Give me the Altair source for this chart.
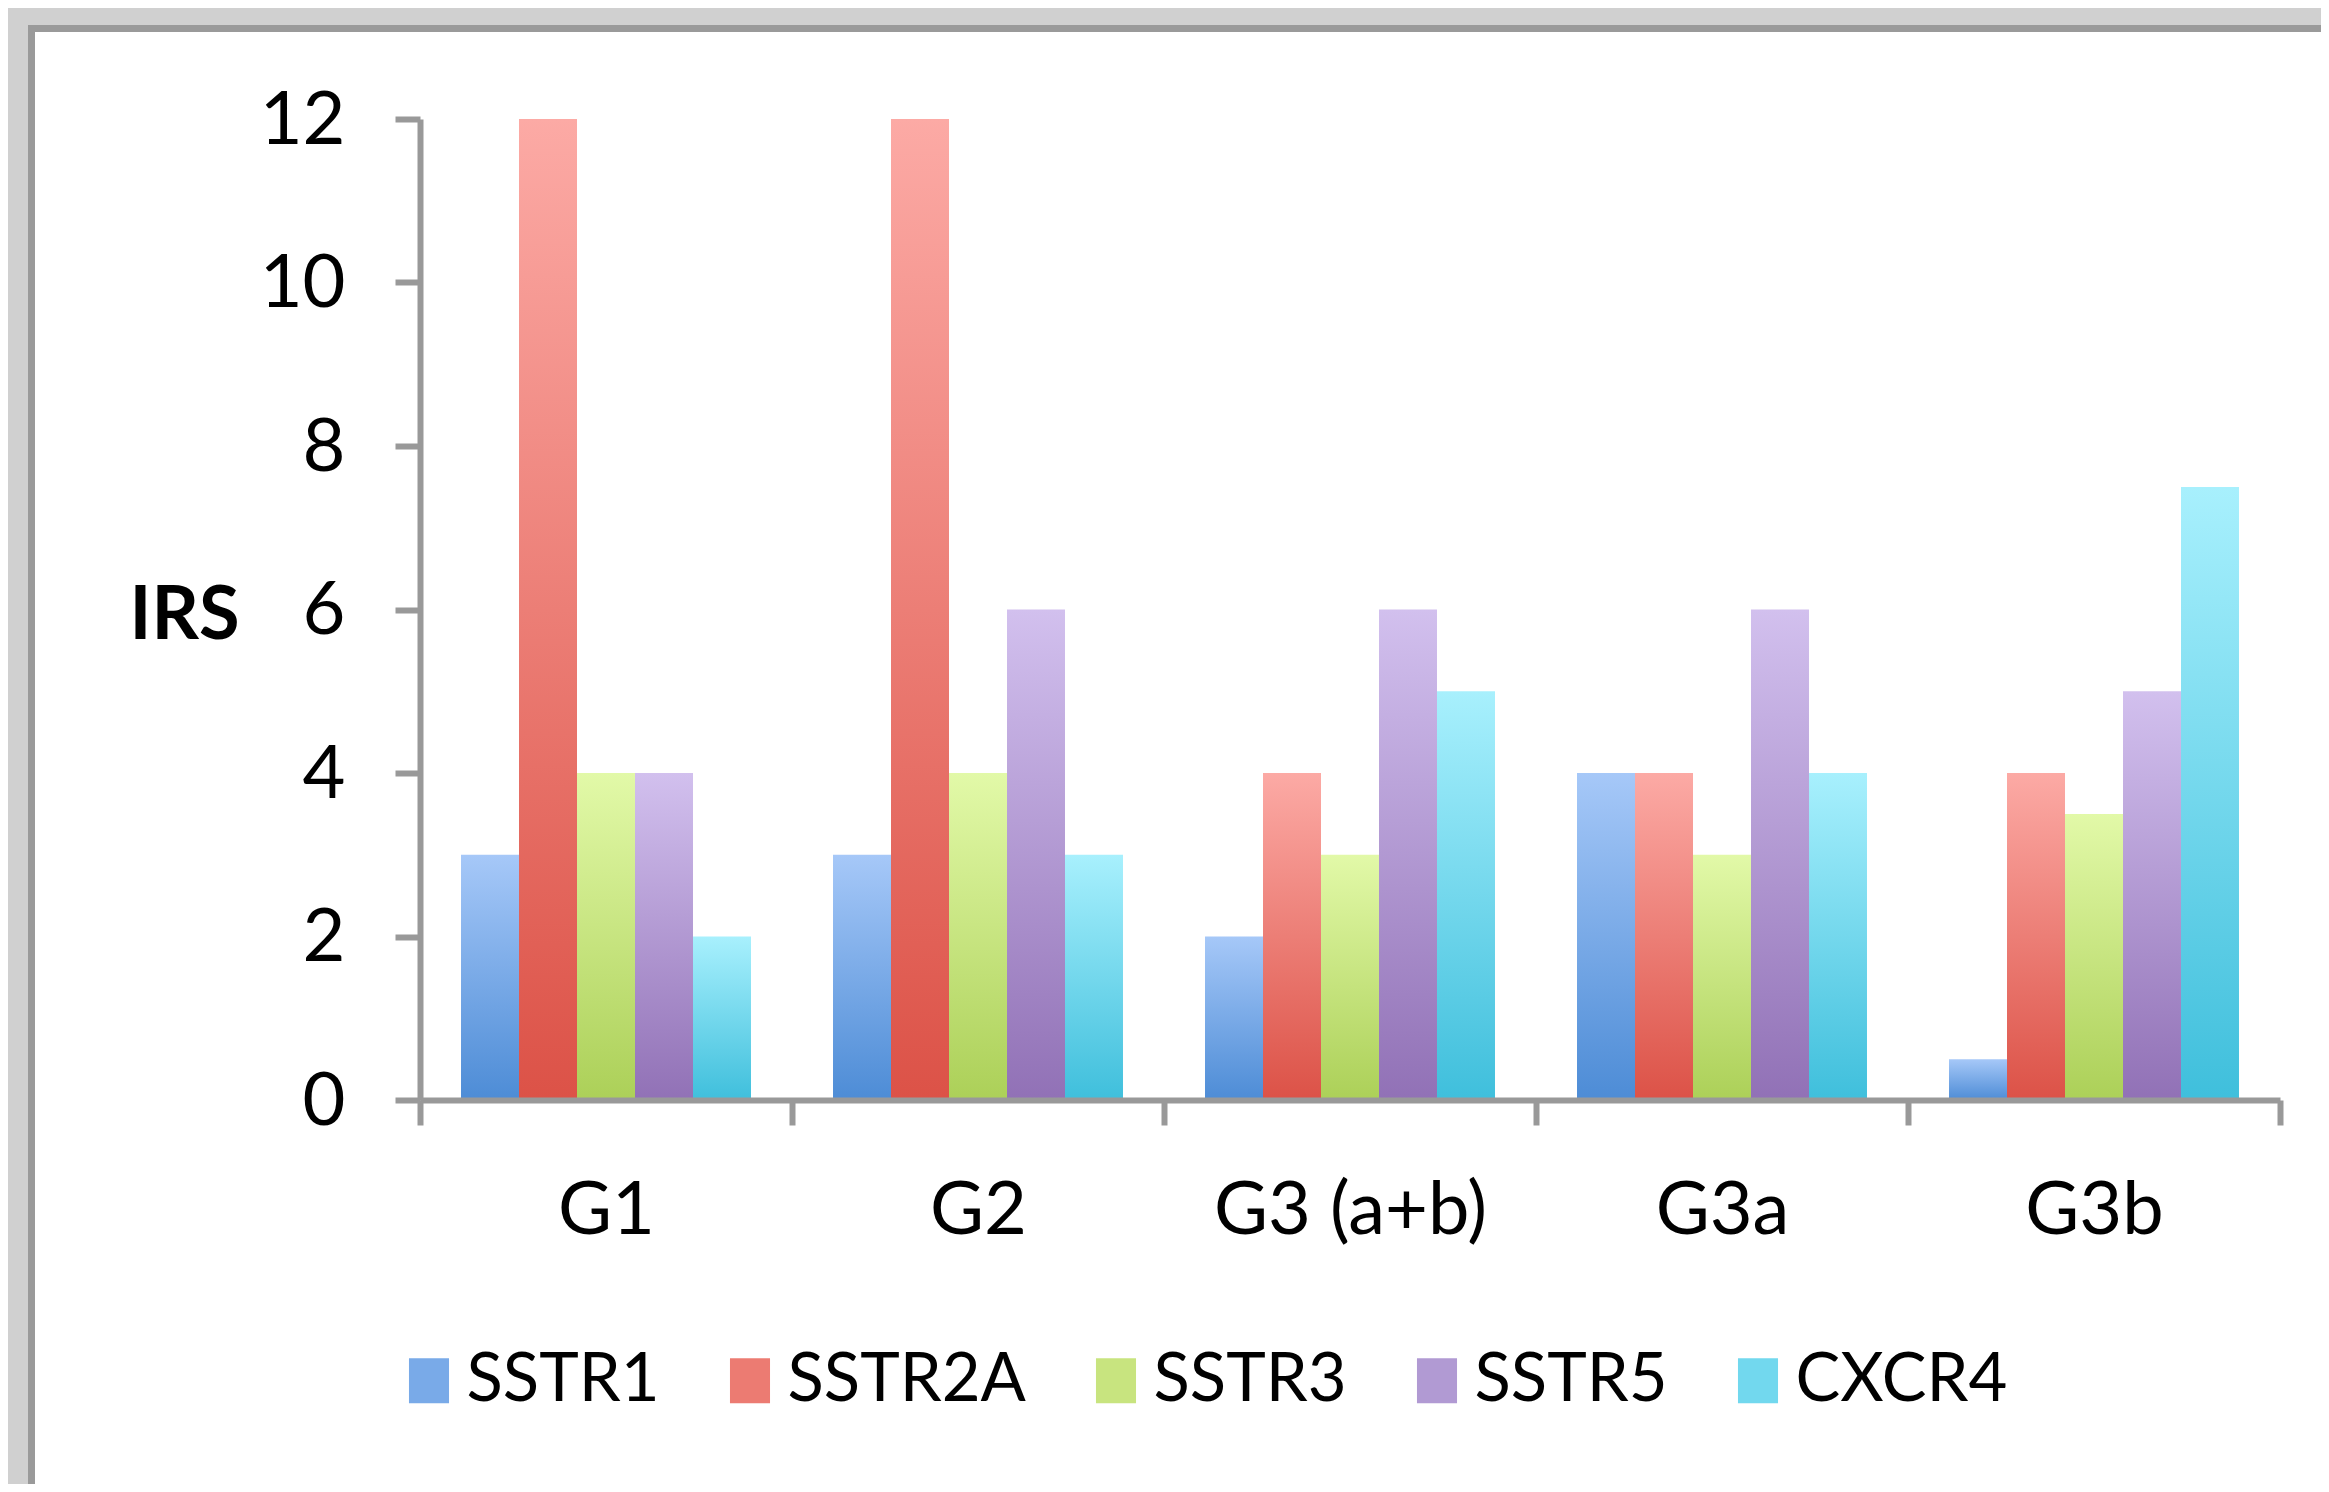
import altair as alt
import pandas as pd

# ---- data ----
groups = ["G1", "G2", "G3 (a+b)", "G3a", "G3b"]
series = ["SSTR1", "SSTR2A", "SSTR3", "SSTR5", "CXCR4"]
sstr1 = [3, 3, 2, 4, 0.5]
sstr2a = [12, 12, 4, 4, 4]
sstr3 = [4, 4, 3, 3, 3.5]
sstr5 = [4, 6, 6, 6, 5]
cxcr4 = [2, 3, 5, 4, 7.5]
y_ticks = [0, 2, 4, 6, 8, 10, 12]

# ---- styling ----
top_colors = ["#a6c8f8", "#fcaaa5", "#e2f9a8", "#d2c0ee", "#a8f0fd"]
bottom_colors = ["#4d8cd6", "#dc5247", "#acd058", "#9171b6", "#3fbfdc"]
legend_colors = ["#79aae8", "#ec7b72", "#c8e47f", "#b19ad3", "#72d8ee"]

FONT = "Lato"
FS = 74
LFS = 67
W, H = 1860, 981
AX = "#999999"

rows = []
for s, vals in zip(series, [sstr1, sstr2a, sstr3, sstr5, cxcr4]):
    for g, v in zip(groups, vals):
        rows.append({"group": g, "series": s, "IRS": v})
df = pd.DataFrame(rows)

x_enc = alt.X(
    "group:N",
    sort=groups,
    scale=alt.Scale(domain=groups, paddingInner=0, paddingOuter=0),
    axis=alt.Axis(
        title=None, labelAngle=0, tickBand="extent", tickSize=25, tickWidth=6,
        tickColor=AX, domainColor=AX, domainWidth=6, labelFont=FONT,
        labelFontSize=FS, labelColor="#000000", labelPadding=50,
        labelLimit=800, zindex=1, grid=False,
    ),
)
y_enc = alt.Y(
    "IRS:Q",
    scale=alt.Scale(domain=[0, 12], nice=False),
    axis=alt.Axis(
        values=y_ticks, title="IRS", titleAngle=0, titleFont=FONT,
        titleFontSize=FS, titleFontWeight="bold", titleColor="#000000",
        titleX=-236, titleY=497, titleAlign="center", titleBaseline="middle",
        grid=False, domainColor=AX, domainWidth=6, tickColor=AX, tickWidth=6,
        tickSize=25, labelPadding=50, labelFont=FONT, labelFontSize=FS,
        labelColor="#000000", labelOffset=2, zindex=1,
    ),
)
xoff_enc = alt.XOffset(
    "series:N", scale=alt.Scale(domain=series, paddingInner=0, paddingOuter=0.707)
)

panel = alt.Chart(pd.DataFrame({"a": [0]})).mark_rect(
    fill="white", stroke="#9a9a9a", strokeWidth=7
).encode(
    x=alt.value(-388.5), x2=alt.value(W + 200),
    y=alt.value(-90.5), y2=alt.value(H + 700),
)

layers = [panel]
for s, tc, bc in zip(series, top_colors, bottom_colors):
    grad = {
        "gradient": "linear",
        "x1": 0, "y1": 0, "x2": 0, "y2": 1,
        "stops": [{"offset": 0, "color": tc}, {"offset": 1, "color": bc}],
    }
    layers.append(
        alt.Chart(df)
        .transform_filter(alt.datum.series == s)
        .mark_bar(fill=grad, strokeWidth=0)
        .encode(x=x_enc, xOffset=xoff_enc, y=y_enc)
    )

legend_layer = (
    alt.Chart(df)
    .transform_filter("false")
    .mark_square()
    .encode(
        color=alt.Color(
            "series:N",
            scale=alt.Scale(domain=series, range=legend_colors),
            legend=alt.Legend(
                title=None, orient="none", legendX=-24.5, legendY=1228,
                direction="horizontal",
                symbolType="M-0.89,-1H0.89V1H-0.89Z", symbolSize=2025,
                symbolStrokeWidth=0, symbolOpacity=1,
                labelFont=FONT, labelFontSize=LFS, labelColor="#000000",
                labelOffset=4, columnPadding=56, padding=0, labelLimit=800,
            ),
        )
    )
)
layers.append(legend_layer)

chart = (
    alt.layer(*layers)
    .properties(
        width=W, height=H,
        autosize=alt.AutoSizeParams(type="none"),
        padding={"left": 412, "top": 111, "right": 41, "bottom": 384},
        background="#d0d0d0",
    )
    .configure_view(stroke=None)
)

chart.save("out.html", embed_options={"renderer": "svg", "actions": False})
